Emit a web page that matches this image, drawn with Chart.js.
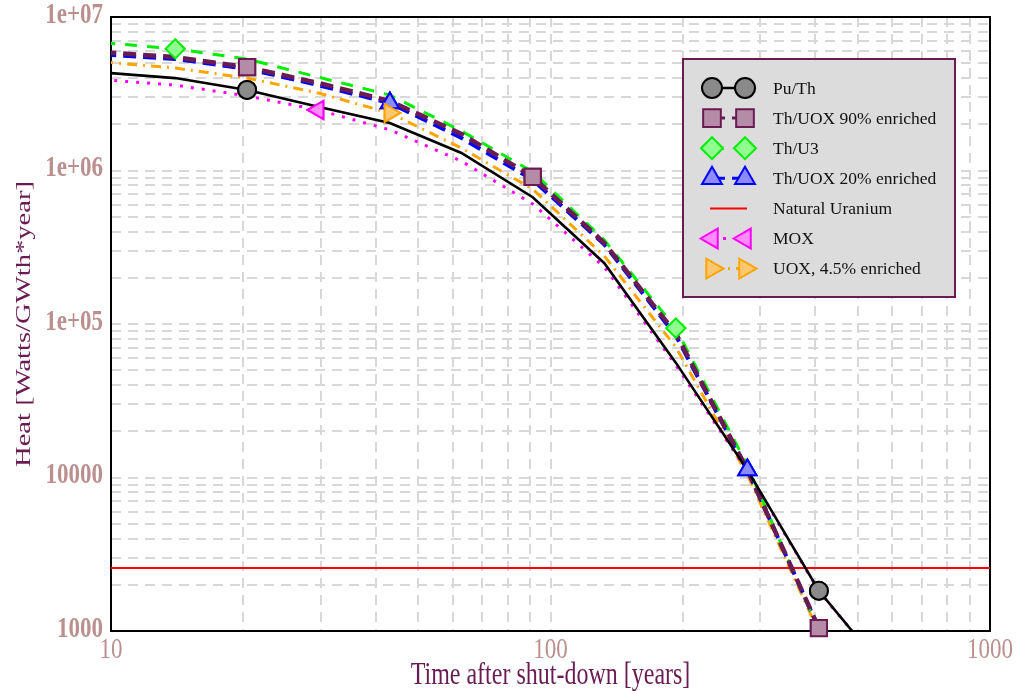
<!DOCTYPE html>
<html>
<head>
<meta charset="utf-8">
<script src="https://cdn.jsdelivr.net/npm/chart.js@4.4.1/dist/chart.umd.min.js"></script>
<style>
  html, body { margin: 0; padding: 0; background: #ffffff; }
  #wrap { width: 1017px; height: 691px; }
</style>
</head>
<body>
<div id="wrap"><canvas id="heatChart" width="1017" height="691"></canvas></div>
<script>
// Decay heat after shut-down, per fuel cycle
const years    = [9.6, 14, 20.4, 29.6, 43.1, 62.7, 91.1, 132.6, 192.8, 280.5, 408, 593];
const puTh     = [4.35e6, 4.0e6, 3.35e6, 2.6e6, 2.04e6, 1.30e6, 6.7e5, 2.49e5, 5.6e4, 1.12e4, 1830, 500];
const thUox90  = [5.9e6, 5.48e6, 4.72e6, 3.72e6, 2.84e6, 1.73e6, 9.1e5, 3.37e5, 8.7e4, 1.12e4, 1045, 120];
const thU3     = [6.8e6, 6.2e6, 5.32e6, 4.06e6, 3.1e6, 1.81e6, 9.8e5, 3.52e5, 9.4e4, 1.2e4, 1000, 120];
const thUox20  = [5.7e6, 5.33e6, 4.6e6, 3.6e6, 2.75e6, 1.63e6, 8.7e5, 3.3e5, 8.4e4, 1.12e4, 1040, 120];
const mox      = [3.9e6, 3.6e6, 3.06e6, 2.48e6, 1.84e6, 1.15e6, 6.05e5, 2.35e5, 5.4e4, 1.1e4, 1820, 500];
const uox      = [5.1e6, 4.65e6, 4.0e6, 3.2e6, 2.37e6, 1.40e6, 7.57e5, 2.77e5, 7.08e4, 1.04e4, 980, 100];
const naturalUranium = 2570;
const uraniumSpan = [10, 1000];

const xTickValues = [10, 100, 1000];
const xTickLabels = ['10', '100', '1000'];
const yTickValues = [1e3, 1e4, 1e5, 1e6, 1e7];
const yTickLabels = ['1000', '10000', '1e+05', '1e+06', '1e+07'];

const TICK_COLOR = '#bc8f8f';
const TITLE_COLOR = '#6a1b52';
const GRID_COLOR = '#d8d8d8';
const TEXT_STRETCH = 1.3;   // tall, narrow axis lettering

function toPoints(ys) {
  return years.map((x, i) => ({ x: x, y: ys[i] }));
}

// markers only on a few samples of each curve
function markAt(indices, r) {
  return ctx => indices.includes(ctx.dataIndex) ? r : 0;
}

const datasets = [
  {
    label: 'Pu/Th', data: toPoints(puTh),
    borderColor: '#000000', borderWidth: 2.6,
    pointStyle: 'circle', pointRadius: markAt([2, 10], 9), legendRadius: 10,
    pointBackgroundColor: '#8a8a8a', pointBorderColor: '#000000', pointBorderWidth: 2
  },
  {
    label: 'Th/UOX 90% enriched', data: toPoints(thUox90),
    borderColor: '#6a1b52', borderWidth: 4.5, borderDash: [13, 7],
    pointStyle: 'rect', pointRadius: markAt([2, 6, 10], 11.5), legendRadius: 12.5,
    pointBackgroundColor: '#b58ca8', pointBorderColor: '#6a1b52', pointBorderWidth: 2
  },
  {
    label: 'Th/U3', data: toPoints(thU3),
    borderColor: '#00ee00', borderWidth: 3, borderDash: [12, 10],
    pointStyle: 'rectRot', pointRadius: markAt([1, 8], 9.5), legendRadius: 11,
    pointBackgroundColor: '#90ff90', pointBorderColor: '#00ee00', pointBorderWidth: 2
  },
  {
    label: 'Th/UOX 20% enriched', data: toPoints(thUox20),
    borderColor: '#0000ff', borderWidth: 4, borderDash: [13, 7],
    pointStyle: 'triangle', pointRadius: markAt([4, 9], 10.5), legendRadius: 11.5,
    pointBackgroundColor: '#8c8cff', pointBorderColor: '#0000ff', pointBorderWidth: 2
  },
  {
    label: 'Natural Uranium',
    data: uraniumSpan.map(x => ({ x: x, y: naturalUranium })),
    borderColor: '#ff0000', borderWidth: 2, pointRadius: 0, legendRadius: 0
  },
  {
    label: 'MOX', data: toPoints(mox),
    borderColor: '#ff00ff', borderWidth: 3, borderDash: [3, 8],
    pointStyle: 'triangle', pointRotation: -90, pointRadius: markAt([3], 10.5), legendRadius: 11.5,
    pointBackgroundColor: '#ff8cff', pointBorderColor: '#ff00ff', pointBorderWidth: 2
  },
  {
    label: 'UOX, 4.5% enriched', data: toPoints(uox),
    borderColor: '#ffa500', borderWidth: 3, borderDash: [10, 6, 2, 6],
    pointStyle: 'triangle', pointRotation: 90, pointRadius: markAt([4], 10.5), legendRadius: 11.5,
    pointBackgroundColor: '#ffc870', pointBorderColor: '#ffa500', pointBorderWidth: 2
  }
];

// every 1..9 step of each decade gets a grid line
function decadeGrid(lo, hi) {
  const out = [];
  for (let d = lo; d < hi; d *= 10) {
    for (let m = 1; m < 10; m++) out.push(m * d);
  }
  out.push(hi);
  return out;
}

function drawStretched(ctx, text, x, y, font, color, align, rotated) {
  ctx.save();
  ctx.translate(x, y);
  if (rotated) {
    ctx.rotate(-Math.PI / 2);
    ctx.scale(TEXT_STRETCH, 1);
  } else {
    ctx.scale(1, TEXT_STRETCH);
  }
  ctx.font = font;
  ctx.fillStyle = color;
  ctx.textAlign = align;
  ctx.textBaseline = 'middle';
  ctx.fillText(text, 0, 0);
  ctx.restore();
}

const heatDecor = {
  id: 'heatDecor',
  beforeDatasetsDraw(chart) {
    const { ctx, chartArea: a } = chart;
    ctx.save();
    ctx.strokeStyle = '#000000';
    ctx.lineWidth = 2;
    ctx.strokeRect(a.left, a.top, a.right - a.left, a.bottom - a.top);
    ctx.restore();
  },
  afterDatasetsDraw(chart) {
    // markers go above every curve, not only their own
    const { ctx, chartArea: a } = chart;
    chart.data.datasets.forEach((ds, i) => {
      chart.getDatasetMeta(i).data.forEach(pt => {
        if (pt.options && pt.options.radius > 0) pt.draw(ctx, a);
      });
    });
  },
  afterDraw(chart) {
    const { ctx, chartArea: a } = chart;
    const xs = chart.scales.x, ys = chart.scales.y;

    yTickValues.forEach((v, i) => {
      drawStretched(ctx, yTickLabels[i], a.left - 8, ys.getPixelForValue(v) - 2,
        'bold 23px "Liberation Serif"', TICK_COLOR, 'right', false);
    });
    xTickValues.forEach((v, i) => {
      drawStretched(ctx, xTickLabels[i], xs.getPixelForValue(v), a.bottom + 19,
        '23px "Liberation Serif"', TICK_COLOR, 'center', false);
    });
    drawStretched(ctx, 'Time after shut-down [years]', (a.left + a.right) / 2, 676,
      '24px "Liberation Serif"', TITLE_COLOR, 'center', false);
    drawStretched(ctx, 'Heat [Watts/GWth*year]', 24, (a.top + a.bottom) / 2,
      '22px "Liberation Serif"', TITLE_COLOR, 'center', true);

    // legend box
    const box = { x: 683, y: 59, w: 272, h: 238 };
    ctx.save();
    ctx.fillStyle = '#dcdcdc';
    ctx.fillRect(box.x, box.y, box.w, box.h);
    ctx.strokeStyle = TITLE_COLOR;
    ctx.lineWidth = 2;
    ctx.strokeRect(box.x, box.y, box.w, box.h);

    chart.data.datasets.forEach((ds, i) => {
      const y = 88 + i * 30.1;
      const x1 = 712, x2 = 745;
      ctx.save();
      ctx.strokeStyle = ds.borderColor;
      ctx.lineWidth = Math.min(ds.borderWidth, 3);
      ctx.setLineDash(ds.borderDash || []);
      ctx.beginPath();
      if (ds.legendRadius) {
        ctx.moveTo(x1, y);
        ctx.lineTo(x2, y);
      } else {
        ctx.moveTo(710, y);
        ctx.lineTo(747, y);
      }
      ctx.stroke();
      ctx.setLineDash([]);
      if (ds.legendRadius) {
        ctx.fillStyle = ds.pointBackgroundColor;
        ctx.strokeStyle = ds.pointBorderColor;
        ctx.lineWidth = ds.pointBorderWidth;
        const opts = { pointStyle: ds.pointStyle, radius: ds.legendRadius, rotation: ds.pointRotation || 0, borderWidth: ds.pointBorderWidth };
        Chart.helpers.drawPoint(ctx, opts, x1, y);
        Chart.helpers.drawPoint(ctx, opts, x2, y);
      }
      ctx.restore();
      ctx.font = '17.5px "Liberation Serif"';
      ctx.fillStyle = '#111111';
      ctx.textAlign = 'left';
      ctx.textBaseline = 'middle';
      ctx.fillText(ds.label, 773, y + 1);
    });
    ctx.restore();
  }
};

const chartCtx = document.getElementById('heatChart').getContext('2d');

new Chart(chartCtx, {
  type: 'line',
  data: { datasets: datasets },
  options: {
    responsive: false,
    animation: false,
    devicePixelRatio: 1,
    layout: { padding: { top: 17, right: 27, left: 0, bottom: 0 } },
    elements: { line: { tension: 0, fill: false } },
    plugins: {
      legend: { display: false },
      tooltip: { enabled: false }
    },
    scales: {
      x: {
        type: 'logarithmic', min: 10, max: 1000, position: 'bottom',
        afterBuildTicks: s => { s.ticks = decadeGrid(10, 1000).map(v => ({ value: v })); },
        afterFit: s => { s.height = 60; },
        ticks: { display: false },
        grid: { color: GRID_COLOR, lineWidth: 2, drawTicks: false },
        border: { display: false, dash: [10, 7] }
      },
      y: {
        type: 'logarithmic', min: 1000, max: 1e7,
        afterBuildTicks: s => { s.ticks = decadeGrid(1000, 1e7).map(v => ({ value: v })); },
        afterFit: s => { s.width = 111; },
        ticks: { display: false },
        grid: { color: GRID_COLOR, lineWidth: 2, drawTicks: false },
        border: { display: false, dash: [10, 7] }
      }
    }
  },
  plugins: [heatDecor]
});
</script>
</body>
</html>
